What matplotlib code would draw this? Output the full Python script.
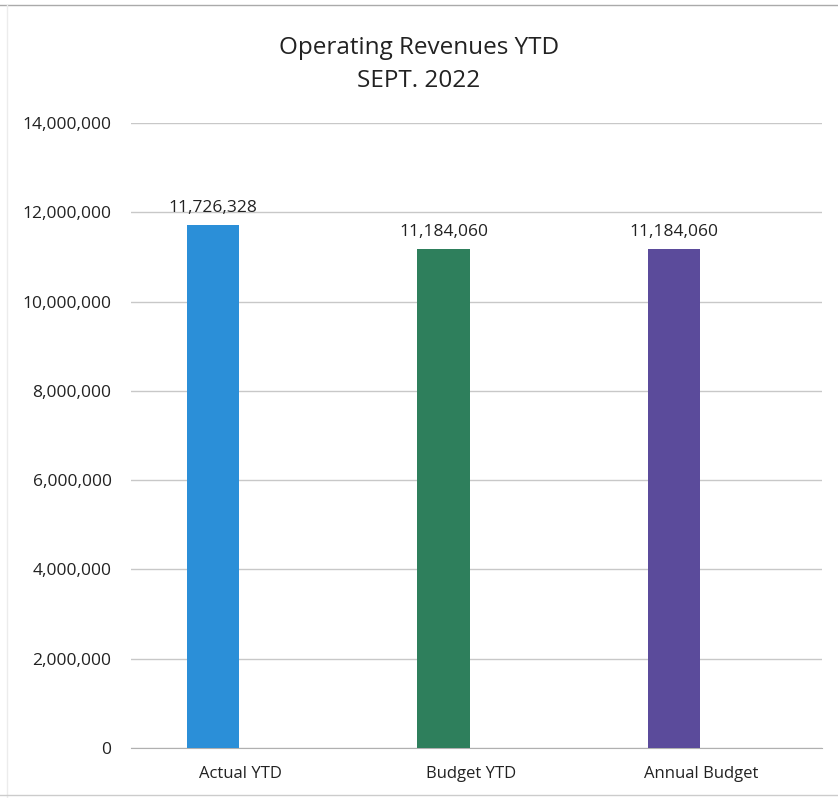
import numpy as np
import matplotlib.pyplot as plt
from matplotlib.ticker import FuncFormatter

categories = ["Actual YTD", "Budget YTD", "Annual Budget"]
revenues = [11726328, 11184060, 11184060]
bar_colors = ["#2b8fd8", "#2e7f5c", "#5b4b9b"]
yticks = [0, 2000000, 4000000, 6000000, 8000000, 10000000, 12000000, 14000000]

plt.rcParams["font.family"] = ["Open Sans", "DejaVu Sans"]

fig = plt.figure(figsize=(8.38, 7.98), dpi=100)
ax = fig.add_axes([0.1563, 0.0627, 0.8246, 0.783])

x = np.arange(len(categories))
bars = ax.bar(x, revenues, width=0.226, color=bar_colors, zorder=3)

for b, v in zip(bars, revenues):
    ax.text(b.get_x() + b.get_width() / 2, v + 200000, f"{v:,}",
            ha="center", va="bottom", fontsize=12.5, color="#222222")

ax.set_xlim(-0.356, 2.642)
ax.set_ylim(0, 14000000)
ax.set_yticks(yticks)
ax.yaxis.set_major_formatter(FuncFormatter(lambda v, p: f"{int(v):,}"))
# category labels sit a little right of their bars
ax.set_xticks(x + 0.12)
ax.set_xticklabels(categories)
ax.tick_params(axis="both", length=0, colors="#222222")
ax.tick_params(axis="y", pad=14, labelsize=12.5)
ax.tick_params(axis="x", pad=13, labelsize=12)
ax.grid(axis="y", color="#c8c8c8", linewidth=1, zorder=0)
for side in ["top", "right", "left"]:
    ax.spines[side].set_visible(False)
ax.spines["bottom"].set_color("#b0b0b0")

fig.text(0.5, 0.940, "Operating Revenues YTD", ha="center", va="center",
         fontsize=17.5, color="#222222")
fig.text(0.5, 0.899, "SEPT. 2022", ha="center", va="center",
         fontsize=17.5, color="#222222")

# thin frame lines around the chart area
fig.add_artist(plt.Line2D([0.0, 1.0], [0.994, 0.994], color="#aaaaaa", linewidth=1))
fig.add_artist(plt.Line2D([0.008, 0.008], [0.0, 0.994], color="#ececec", linewidth=1))
fig.add_artist(plt.Line2D([0.0, 1.0], [0.004, 0.004], color="#cccccc", linewidth=1))

fig.savefig("out.png", dpi=100, facecolor="white")
